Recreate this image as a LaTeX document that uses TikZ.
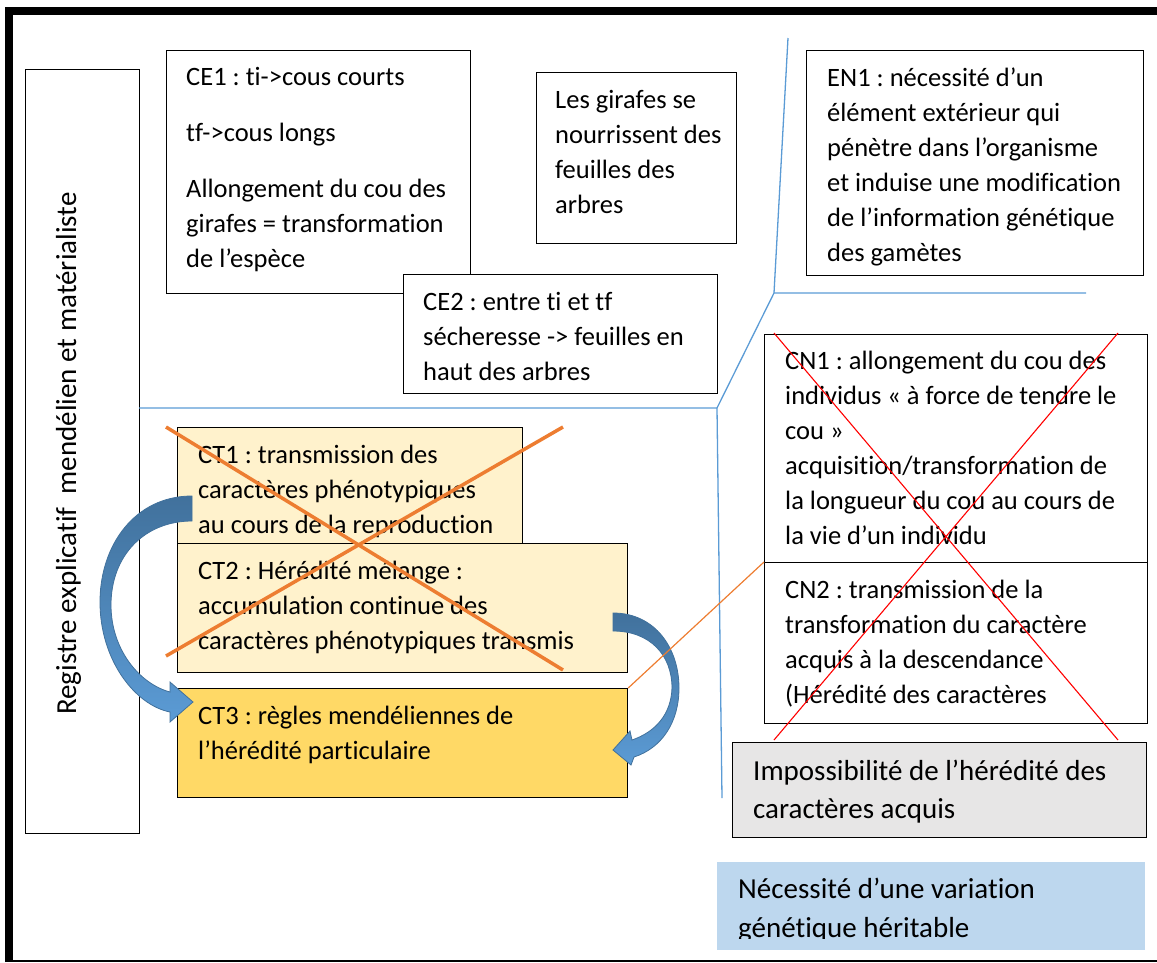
\documentclass[tikz,border=0pt]{standalone}
\usepackage{fontspec}
\setmainfont{Carlito}[Ligatures=NoCommon]
\definecolor{ctlight}{HTML}{FFF2CC}
\definecolor{ctgold}{HTML}{FFD966}
\definecolor{graybox}{HTML}{E7E6E6}
\definecolor{bluebox}{HTML}{BDD7EE}
\definecolor{lineblue}{HTML}{5B9BD5}
\definecolor{orangeline}{HTML}{ED7D31}
\definecolor{arrowdark}{HTML}{41719C}
\definecolor{arrowlight}{HTML}{5B9BD5}
\newcommand\tlines[1]{\parbox[t]{900pt}{\raggedright #1}}
\tikzset{
  box/.style={draw=black, line width=1.2pt, inner sep=0pt, anchor=north west},
  txt/.style={anchor=base west, inner sep=0pt, font=\fontsize{26.5}{35}\selectfont},
  txtb/.style={anchor=base west, inner sep=0pt, font=\fontsize{29}{38.5}\selectfont},
  bluel/.style={draw=lineblue, line width=1.3pt},
  orangex/.style={draw=orangeline, line width=3.5pt},
  redx/.style={draw=red, line width=1.1pt},
  curvearrow/.style={draw=arrowdark, line width=0.8pt, top color=arrowdark, bottom color=arrowlight},
}
\begin{document}
\frenchspacing
\begin{tikzpicture}[x=1pt, y=-1pt]
\useasboundingbox (0,0) rectangle (1157,962);
% outer frame
\draw[line width=8pt] (9,962) -- (9,11) -- (1157,11);
\draw[line width=1.5pt] (9,961) -- (1157,961);

% left box
\node[box, minimum width=114pt, minimum height=764pt] (reg) at (25,69) {};
\node[txtb, rotate=90] (regt) at (76,715) {Registre explicatif\ \ mendélien et matérialiste};

% blue separator lines
\coordinate (b1) at (788,38);
\coordinate (b2) at (774,293);
\coordinate (b3) at (1086,293);
\coordinate (b4) at (717,408);
\coordinate (b5) at (139,408);
\coordinate (b6) at (722,798);
\draw[bluel] (b1) -- (b2) -- (b3);
\draw[bluel] (b2) -- (b4);
\draw[bluel] (b5) -- (b4) -- (b6);

% CE1
\node[box, fill=white, minimum width=304pt, minimum height=243pt] (ce1) at (166,50) {};
\node[txt] (ce1t) at (186,85) {\tlines{CE1 : ti->cous courts\\[21pt]tf->cous longs\\[21pt]Allongement du cou des\\girafes = transformation\\de l’espèce}};

% girafes
\node[box, fill=white, minimum width=200pt, minimum height=171pt] (gir) at (536,72) {};
\node[txt] (girt) at (555,108) {\tlines{Les girafes se\\nourrissent des\\feuilles des\\arbres}};

% EN1
\node[box, fill=white, minimum width=337pt, minimum height=225pt] (en1) at (806,50) {};
\node[txt] (en1t) at (827,86) {\tlines{EN1 : nécessité d’un\\élément extérieur qui\\pénètre dans l’organisme\\et induise une modification\\de l’information génétique\\des gamètes}};

% CE2
\node[box, fill=white, minimum width=314pt, minimum height=119pt] (ce2) at (403,274) {};
\node[txt] (ce2t) at (423,310) {\tlines{CE2 : entre ti et tf\\sécheresse -> feuilles en\\haut des arbres}};

% CT1, CT2, CT3
\node[box, fill=ctlight, minimum width=345pt, minimum height=116pt] (ct1) at (177,427) {};
\node[txt] (ct1t) at (198,463) {\tlines{CT1 : transmission des\\caractères phénotypiques\\au cours de la reproduction}};
\node[box, fill=ctlight, minimum width=450pt, minimum height=129pt] (ct2) at (177,543) {};
\node[txt] (ct2t) at (198,579) {\tlines{CT2 : Hérédité mélange :\\accumulation continue des\\caractères phénotypiques transmis}};
\node[box, fill=ctgold, minimum width=450pt, minimum height=109pt] (ct3) at (177,688) {};
\node[txt] (ct3t) at (198,724) {\tlines{CT3 : règles mendéliennes de\\l’hérédité particulaire}};

% orange cross over CT1/CT2
\coordinate (o1) at (166,427);
\coordinate (o2) at (563,670);
\coordinate (o3) at (563,427);
\coordinate (o4) at (166,656);
\draw[orangex] (o1) -- (o2);
\draw[orangex] (o3) -- (o4);

% curved arrows
\path[curvearrow] (192,496) .. controls (135,496) and (100,545) .. (100,602)
  .. controls (100,660) and (135,705) .. (170,712) -- (170,722) -- (193,702) -- (170,682) -- (170,692)
  .. controls (140,684) and (111,650) .. (111,605)
  .. controls (111,555) and (145,521) .. (192,521) -- cycle;
\path[curvearrow] (613,613) .. controls (655,613) and (679,648) .. (679,688)
  .. controls (679,722) and (662,748) .. (634,757) -- (631,765) -- (613,750) -- (630,731) -- (632,740)
  .. controls (655,732) and (671,715) .. (672,688)
  .. controls (672,655) and (650,631) .. (613,631) -- cycle;

% CN1, CN2
\node[box, fill=white, minimum width=383pt, minimum height=228pt] (cn1) at (764,334) {};
\node[txt] (cn1t) at (785,369) {\tlines{CN1 : allongement du cou des\\individus « à force de tendre le\\cou »\\acquisition/transformation de\\la longueur du cou au cours de\\la vie d’un individu}};
\node[box, fill=white, minimum width=383pt, minimum height=161pt] (cn2) at (764,562) {};
\node[txt] (cn2t) at (785,598) {\tlines{CN2 : transmission de la\\transformation du caractère\\acquis à la descendance\\(Hérédité des caractères}};

% thin orange link
\draw[draw=orangeline, line width=1.2pt] (ct3.north east) -- (cn2.north west);

% red cross
\coordinate (r1) at (774,333);
\coordinate (r2) at (1118,740);
\coordinate (r3) at (1118,333);
\coordinate (r4) at (774,740);
\draw[redx] (r1) -- (r2);
\draw[redx] (r3) -- (r4);

% Impossibilite
\node[box, fill=graybox, minimum width=414pt, minimum height=95pt] (imp) at (732,742) {};
\node[txtb] (impt) at (753,780) {\tlines{Impossibilité de l’hérédité des\\caractères acquis}};

% Necessite
\node[box, draw=none, fill=bluebox, minimum width=428pt, minimum height=88pt] (nec) at (716,861) {};
\begin{scope}
\clip (716,861) rectangle (1144,938.5);
\node[txtb] (nect) at (738,898) {\tlines{Nécessité d’une variation\\[0.5pt]génétique héritable}};
\end{scope}
\end{tikzpicture}
\end{document}
